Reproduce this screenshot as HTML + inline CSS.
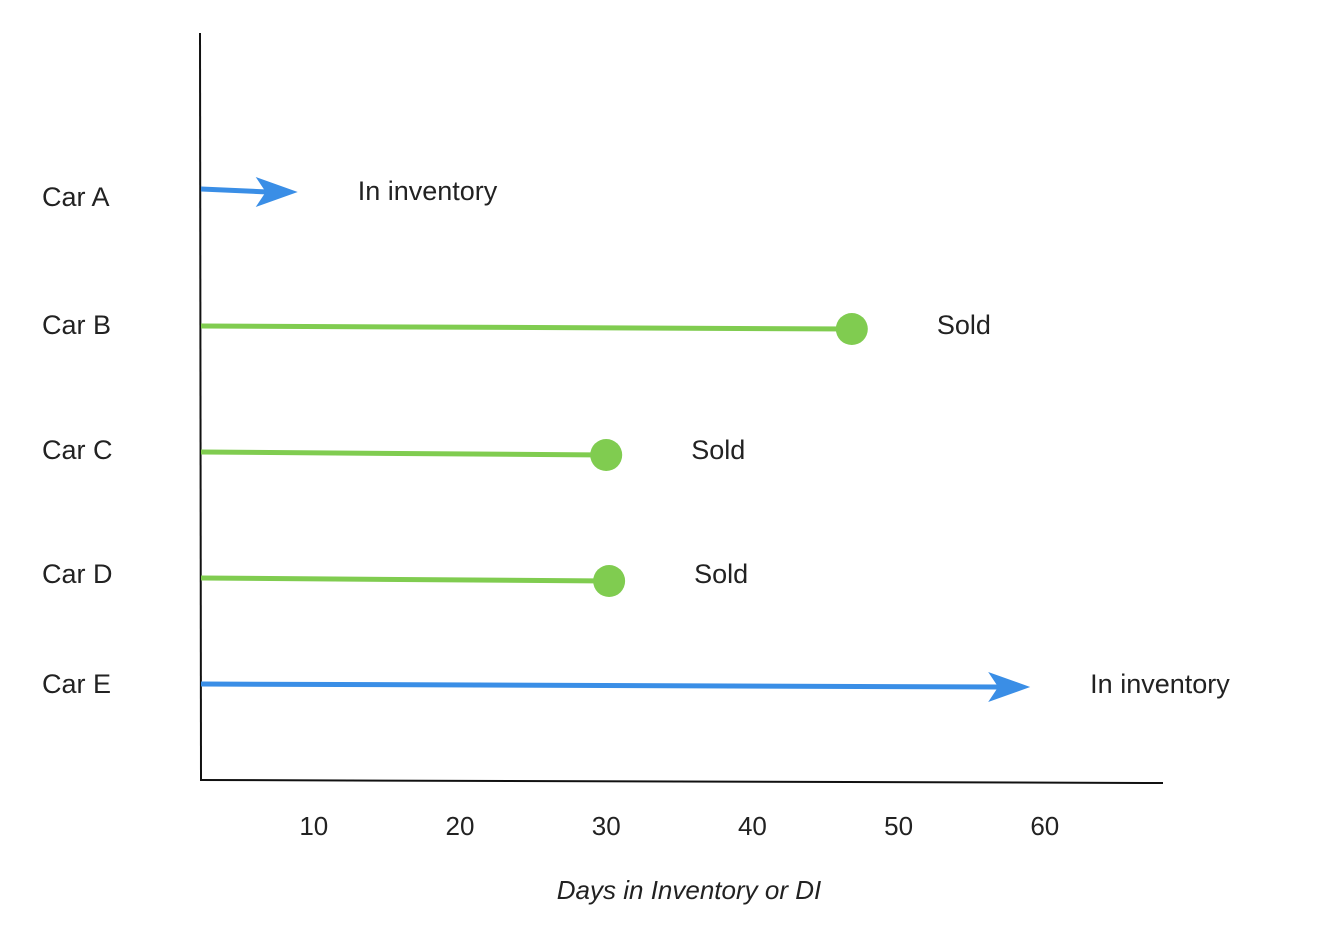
<!DOCTYPE html>
<html><head><meta charset="utf-8"><style>
html,body{margin:0;padding:0;background:#fff;}
svg{display:block;font-family:"Liberation Sans",sans-serif;}
</style></head><body>
<svg id="chart" width="1318" height="939" viewBox="0 0 1318 939">
<line x1="200" y1="33" x2="201" y2="780" stroke="#111" stroke-width="2"/>
<line x1="200" y1="780" x2="1163" y2="783" stroke="#111" stroke-width="2"/>
<text x="689" y="899" font-size="26" font-style="italic" text-anchor="middle" fill="#222">Days in Inventory or DI</text>
<g id="ticks"></g><g id="marks"></g>
</svg>
<script>
const categories = ["Car A","Car B","Car C","Car D","Car E"];
const daysValues = [8.9, 46.8, 30.0, 30.2, 59.0];
const statusValues = ["In inventory","Sold","Sold","Sold","In inventory"];
const tickValues = [10,20,30,40,50,60];
const tickLabels = ["10","20","30","40","50","60"];

const NS="http://www.w3.org/2000/svg";
function x(v){return 167.6+14.62*v;}
function y(i){return [189,326,452,578,684][i];}
function labelY(i){return [196,324,449,573,683][i];}
function statusY(i){return [190,324,449,573,683][i];}
function mk(tag,attrs,parent){const e=document.createElementNS(NS,tag);for(const k in attrs)e.setAttribute(k,attrs[k]);parent.appendChild(e);return e;}
const ticks=document.getElementById('ticks'), marks=document.getElementById('marks');
tickValues.forEach((v,i)=>{
  const t=mk('text',{x:x(v),y:835,'font-size':26,'text-anchor':'middle',fill:'#222'},ticks);
  
  
  t.textContent=tickLabels[i];
});
categories.forEach((c,i)=>{
  const yy=y(i), xe=x(daysValues[i]), sold=statusValues[i]==="Sold";
  const col=sold?"#80cc50":"#3a8ee6";
  const lab=mk('text',{x:42,y:labelY(i)+10,'font-size':27,fill:'#222'},marks);
  
  
  lab.textContent=c;
  if(sold){
    const l=mk('line',{x1:201,y1:yy,x2:xe,y2:yy+3,stroke:col,'stroke-width':5},marks);
    
    
    const d=mk('circle',{cx:xe,cy:yy+3,r:16,fill:col},marks);
    
    
  } else {
    const l=mk('line',{x1:201,y1:yy,x2:xe-30,y2:yy+3,stroke:col,'stroke-width':5},marks);
    
    
    const a=mk('polygon',{points:`${xe},${yy+3} ${xe-42},${yy-12} ${xe-32},${yy+3} ${xe-42},${yy+18}`,fill:col},marks);
    
    
  }
  const s=mk('text',{x:xe+(sold?85:60),y:statusY(i)+10,'font-size':27,fill:'#222'},marks);
  
  
  s.textContent=statusValues[i];
});
</script>
</body></html>
